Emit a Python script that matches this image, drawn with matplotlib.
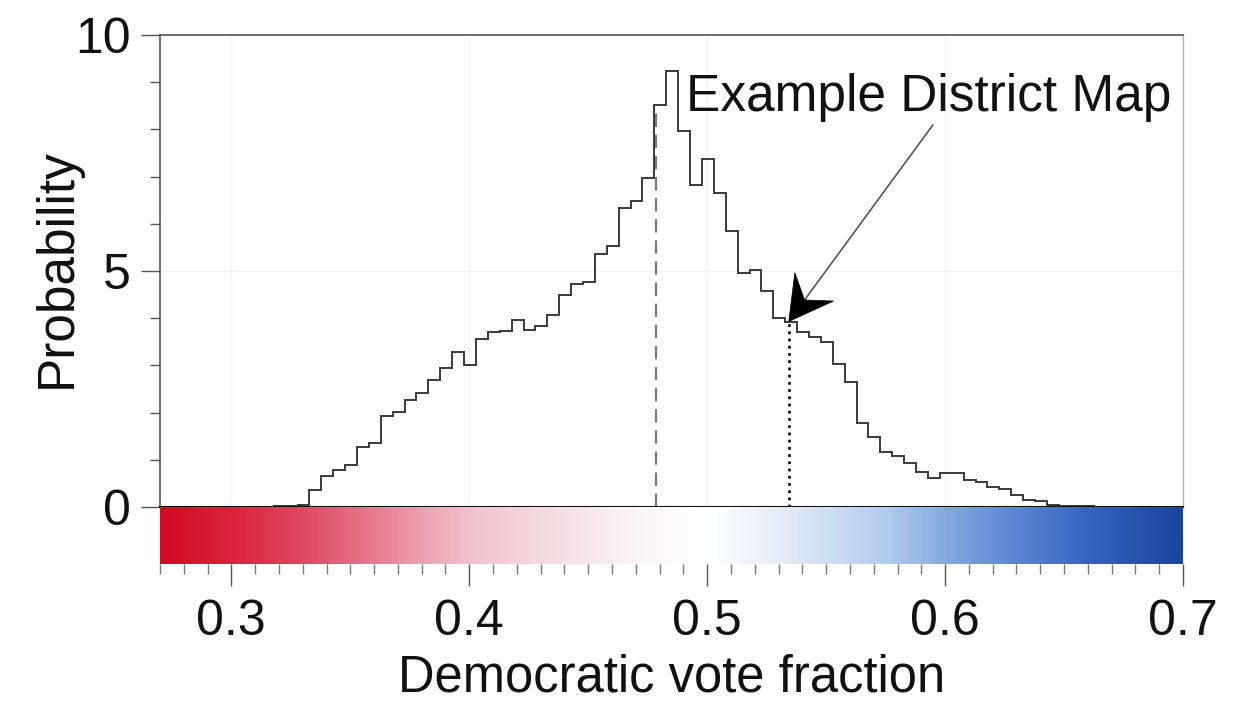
import numpy as np
import matplotlib
matplotlib.use("Agg")
import matplotlib.pyplot as plt
from matplotlib.colors import LinearSegmentedColormap
import matplotlib.transforms as mtransforms
from matplotlib.patches import Polygon

# ---------------- data ----------------
bin_start = 0.3178
bin_width = 0.005
probability = [
    0.02, 0.03, 0.05,
    0.36, 0.66, 0.78, 0.90, 1.28, 1.36, 1.93, 2.02, 2.27, 2.41,
    2.69, 2.94, 3.29, 3.01, 3.55, 3.71, 3.72, 3.96, 3.75, 3.84,
    4.07, 4.49, 4.72, 4.76, 5.36, 5.53, 6.33, 6.49, 6.96, 8.52,
    9.24, 7.97, 6.82, 7.37, 6.66, 5.85, 4.96, 5.03, 4.58, 4.00,
    3.93, 3.71, 3.61, 3.50, 3.04, 2.65, 1.77, 1.49, 1.17, 1.07,
    0.93, 0.75, 0.61, 0.73, 0.71, 0.58, 0.54, 0.43, 0.38, 0.25,
    0.15, 0.12, 0.04, 0.03, 0.02, 0.02,
]
mean_value = 0.4786
example_value = 0.5343
annotation_text = "Example District Map"
text_pos = (0.4910, 8.39)
arrow_tail = (0.5948, 8.09)

x_ticks = [0.3, 0.4, 0.5, 0.6, 0.7]
x_ticklabels = ["0.3", "0.4", "0.5", "0.6", "0.7"]
y_ticks = [0, 5, 10]
y_ticklabels = ["0", "5", "10"]
x_range = (0.27, 0.70)
y_range = (0, 10)

cmap_pos = [0.27, 0.30, 0.33, 0.36, 0.38, 0.40, 0.44, 0.47, 0.50,
            0.53, 0.575, 0.60, 0.63, 0.66, 0.70]
cmap_cols = ["#d20a22", "#d8253d", "#df4a62", "#e77c90", "#eca1b0",
             "#f1c2cc", "#f6e0e5", "#fbf5f6", "#ffffff",
             "#e6edf8", "#b4cced", "#86aae1", "#5a87d2", "#3764c2", "#1a45a0"]

# ---------------- figure ----------------
plt.rcParams["font.family"] = ["Liberation Sans", "DejaVu Sans"]
W, H = 1254, 702
fig = plt.figure(figsize=(W / 100, H / 100), dpi=100)
L, R = 160 / W, 1183 / W
ax = fig.add_axes([L, 1 - 507 / H, R - L, (507 - 35) / H])
cax = fig.add_axes([L, 1 - 564 / H, R - L, (564 - 507) / H])

edges = bin_start + bin_width * np.arange(len(probability) + 1)
vals = np.array(probability)

# faint grid
ax.set_xticks(x_ticks)
ax.tick_params(axis="x", which="both", length=0, labelbottom=False)
ax.grid(True, color="#f2f2f2", lw=1.0, zorder=0)

ax.stairs(vals, edges, baseline=0, color="#3a3a3a", lw=1.4, zorder=3)

def hist_at(v):
    i = np.searchsorted(edges, v) - 1
    return vals[i]

ax.vlines(mean_value, 0, hist_at(mean_value), colors="#777777", lw=1.6,
          linestyles=(0, (6, 3.5)), zorder=2)
ax.vlines(example_value, 0, hist_at(example_value), colors="#111111", lw=2.0,
          linestyles=(0, (1, 1.6)), zorder=2)

ax.set_xlim(*x_range)
ax.set_ylim(*y_range)
ax.set_yticks(y_ticks)
ax.set_yticklabels(y_ticklabels)
ax.set_yticks(np.arange(0, 11, 1), minor=True)
ax.tick_params(axis="y", which="major", direction="out", length=14, width=1.0,
               color="#555555", labelsize=36, pad=7, labelcolor="#111111")
ax.tick_params(axis="y", which="minor", direction="out", length=7, width=1.0,
               color="#555555")
for s in ["top", "left"]:
    ax.spines[s].set_color("#555555")
    ax.spines[s].set_linewidth(1.2)
ax.spines["right"].set_color("#b0b0b0")
ax.spines["right"].set_linewidth(1.0)
ax.spines["bottom"].set_color("#111111")
ax.spines["bottom"].set_linewidth(1.5)
ax.spines["bottom"].set_zorder(5)

# annotation
ax.text(text_pos[0], text_pos[1], annotation_text, fontsize=37, ha="left",
        va="baseline", color="#111111", zorder=6)

tip = (example_value, hist_at(example_value))
p_tip = ax.transData.transform(tip)
p_tail = ax.transData.transform(arrow_tail)
d = p_tail - p_tip
t = d / np.hypot(*d)
n = np.array([t[1], -t[0]])
Lh, Wh = 0.43, 0.24  # inches
verts = np.array([[0, 0], Lh * t + Wh * n, 0.62 * Lh * t, Lh * t - Wh * n])
trans = fig.dpi_scale_trans + mtransforms.ScaledTranslation(tip[0], tip[1], ax.transData)
ax.add_patch(Polygon(verts, closed=True, transform=trans, facecolor="black",
                     edgecolor="black", lw=0.5, zorder=7, clip_on=False))
notch = ax.transData.inverted().transform(p_tip + 0.62 * Lh * 100 * t)
ax.plot([arrow_tail[0], notch[0]], [arrow_tail[1], notch[1]], color="#555555",
        lw=1.2, zorder=6)

# colour bar
cmap = LinearSegmentedColormap.from_list(
    "rb", [((p - cmap_pos[0]) / (cmap_pos[-1] - cmap_pos[0]), c)
           for p, c in zip(cmap_pos, cmap_cols)])
grad = np.linspace(x_range[0], x_range[1], 600)[None, :]
cax.imshow(grad, aspect="auto", cmap=cmap, extent=(x_range[0], x_range[1], 0, 1),
           vmin=x_range[0], vmax=x_range[1])
cax.set_xlim(*x_range)
cax.set_ylim(0, 1)
cax.set_yticks([])
for s in cax.spines.values():
    s.set_visible(False)
cax.set_xticks(x_ticks)
cax.set_xticklabels(x_ticklabels)
cax.set_xticks(np.arange(27, 71) / 100, minor=True)
cax.tick_params(axis="x", which="major", direction="out", length=16, width=1.0,
                color="#555555", labelsize=36, pad=9, labelcolor="#111111")
cax.tick_params(axis="x", which="minor", direction="out", length=7, width=1.0,
                color="#777777")

fig.text(672 / W, 1 - 692 / H, "Democratic vote fraction", fontsize=36.5,
         ha="center", va="baseline", color="#111111")
fig.text(57 / W, 1 - 268 / H, "Probability", fontsize=37, rotation=90,
         ha="center", va="center", color="#111111")

fig.savefig("out.png", dpi=100)
